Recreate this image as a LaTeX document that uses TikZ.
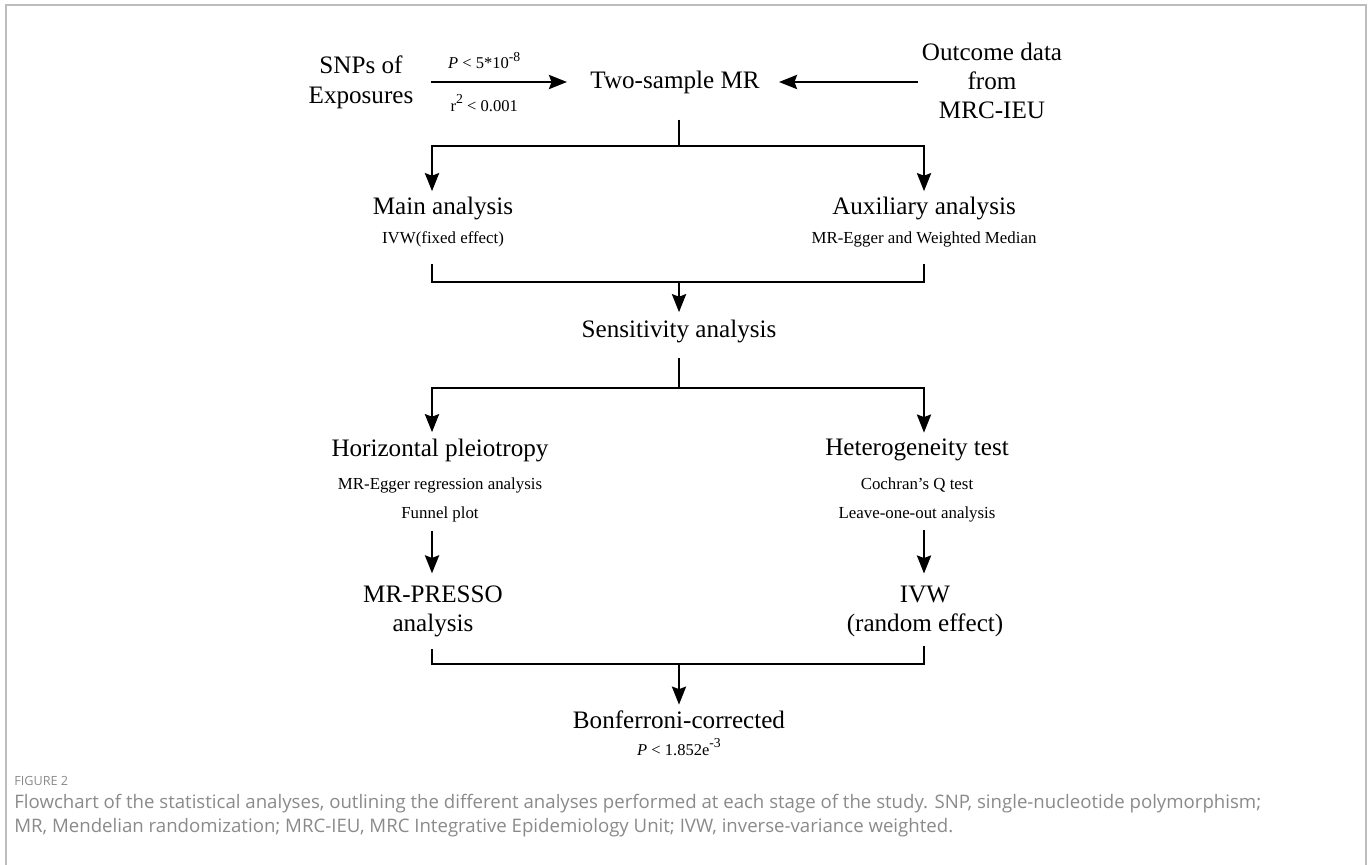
\documentclass[tikz,border=0pt]{standalone}
\usepackage{fontspec}
\setmainfont{Liberation Serif}
\newfontfamily\capfont{Open Sans}
\usetikzlibrary{arrows.meta,positioning}
\definecolor{frameGrey}{HTML}{BDBDBD}
\definecolor{capGrey}{HTML}{8A8A8A}
\newcommand{\upx}[1]{\raisebox{4.5pt}{\fontsize{7.8}{8}\selectfont #1}}

\begin{document}
\begin{tikzpicture}[x=0.02cm,y=-0.02cm,
  stage/.style={align=center,inner sep=0pt,font=\fontsize{14.3}{16.7}\selectfont},
  detail/.style={align=center,inner sep=0pt,font=\fontsize{9.6}{16.5}\selectfont},
  cond/.style={inner sep=0pt,font=\fontsize{9.4}{10}\selectfont},
  line/.style={line width=1.6pt},
  arr/.style={line width=1.6pt,-{Stealth[length=3.6mm,width=2.8mm,inset=0.5mm]}},
  node distance=2.1mm
]
\useasboundingbox (0,0) rectangle (1370,865);
\draw[frameGrey,line width=0.6pt] (6,865) -- (6,5) -- (1366,5) -- (1366,865);
\coordinate (colL) at (432,0);
\coordinate (colR) at (924,0);

% top row
\node[stage] (mr) at (675,82) {Two-sample MR};
\node[stage] (snp) at (361,82.5) {SNPs of\\Exposures};
\node[stage] (outcome) at (992,81) {Outcome data\\from\\MRC-IEU};
\draw[arr,shorten <=0.34cm,shorten >=0.46cm] (snp.east |- mr) --
  node[cond,pos=0.4,above=2.3mm]{\textit{P} < 5*10\upx{-8}}
  node[cond,pos=0.4,below=2.3mm]{r\upx{2} < 0.001} (mr);
\draw[arr,shorten <=0.08cm,shorten >=0.38cm] (outcome.west |- mr) -- (mr);

% first split
\node[stage] (main) at (443,208) {Main analysis};
\node[detail,below=2.3mm of main] (ivwfix) {IVW(fixed effect)};
\node[stage] (aux) at (924,208) {Auxiliary analysis};
\node[detail,below=2.3mm of aux] (egger) {MR-Egger and Weighted Median};
\coordinate (s1) at (679,146);
\coordinate (j1) at (679,282);
\draw[line,shorten <=0.52cm] (s1 |- mr.south) -- (s1);
\draw[arr,shorten >=0.1cm] (s1) -| (colL |- main.north);
\draw[arr,shorten >=0.1cm] (s1) -| (colR |- aux.north);
\draw[line,shorten <=0.33cm,shorten >=0.33cm] (colL |- ivwfix.south) |- (j1) -| (colR |- egger.south);

\node[stage] (sens) at (679,331) {Sensitivity analysis};
\draw[arr,shorten >=0.14cm] (j1) -- (sens);

% second split
\node[stage] (pleio) at (440,450) {Horizontal pleiotropy};
\node[detail,below=3.2mm of pleio] (pleiodet) {MR-Egger regression analysis\\Funnel plot};
\node[stage] (hetero) at (917,450) {Heterogeneity test};
\node[detail,below=3.2mm of hetero] (heterodet) {Cochran’s Q test\\Leave-one-out analysis};
\coordinate (s2) at (679,388);
\coordinate (j2) at (679,664);
\draw[line,shorten <=0.31cm] (sens) -- (s2);
\draw[arr,shorten >=0.12cm] (s2) -| (colL |- pleio.north);
\draw[arr,shorten >=0.12cm] (s2) -| (colR |- hetero.north);

\node[stage] (presso) at (433,611.5) {MR-PRESSO\\analysis};
\node[stage] (ivwrand) at (925,611.5) {IVW\\(random effect)};
\draw[arr,shorten <=0.16cm,shorten >=0.24cm] (colL |- pleiodet.south) -- (colL |- presso.north);
\draw[arr,shorten <=0.16cm,shorten >=0.24cm] (colR |- heterodet.south) -- (colR |- ivwrand.north);
\draw[line,shorten <=0.23cm,shorten >=0.18cm] (colL |- presso.south) |- (j2) -| (colR |- ivwrand.south);

\node[stage] (bonf) at (679,720) {Bonferroni-corrected};
\node[cond,below=1.8mm of bonf] (pval) {\textit{P} < 1.852e\upx{-3}};
\draw[arr,shorten >=0.12cm] (j2) -- (bonf);

% caption
\node[anchor=west,inner sep=0pt,text=capGrey,font=\capfont\fontsize{7.2}{8}\selectfont] (fig) at (14,781) {FIGURE 2};
\node[anchor=north west,inner sep=0pt,align=left,text=capGrey,font=\capfont\fontsize{10.6}{13.7}\selectfont] (cap) at (14,794)
  {Flowchart of the statistical analyses, outlining the different analyses performed at each stage of the study. SNP, single-nucleotide polymorphism;\\
   MR, Mendelian randomization; MRC-IEU, MRC Integrative Epidemiology Unit; IVW, inverse-variance weighted.};
\end{tikzpicture}
\end{document}
